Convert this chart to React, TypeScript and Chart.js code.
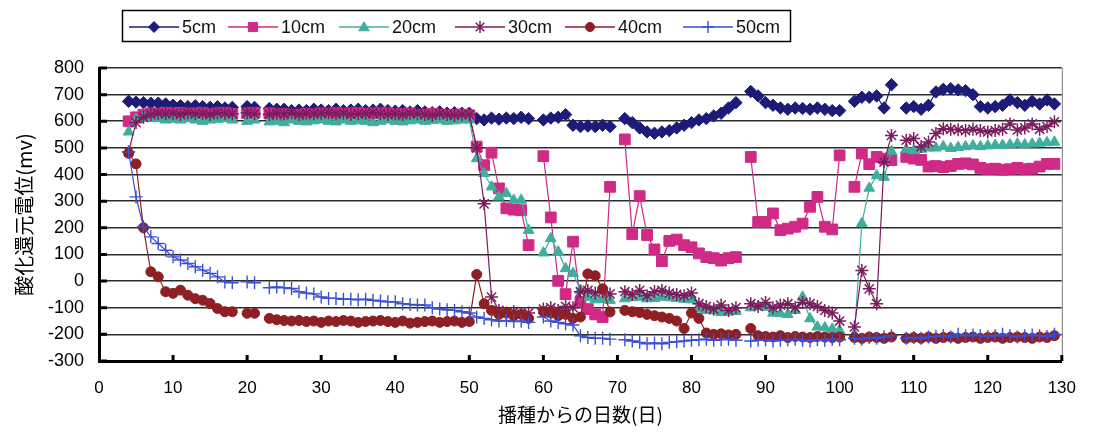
import React, { useEffect, useRef } from 'react';
import { Chart, registerables } from 'chart.js';

Chart.register(...registerables);

// Days after sowing (x categories): 4 .. 129
const days: number[] = Array.from({ length: 126 }, (_, i) => i + 4);

const s5cm: (number | null)[] = [
  675, 672, 670, 668, 668, 665,
  660, 658, 655, 658, 655, 652, 655, 650, 652, null,
  655, 652, null, 648, 645, 645, 640, 642, 640, 645,
  642, 640, 645, 640, 642, 645, 640, 642, 645, 640,
  638, 640, 635, 640, 635, 632, 635, 630, 632, 630,
  630, 610, 605, 612, 608, 612, 610, 615, 610, null,
  605, 612, 615, 625, 585, 580, 582, 580, 585, 580,
  null, 610, 595, 575, 560, 555, 560, 565, 575, 585,
  595, 605, 610, 620, 630, 650, 670, null, 712, 695,
  670, 660, 650, 645, 650, 648, 645, 650, 645, 640,
  640, null, 675, 690, 690, 695, 650, 737, null, 650,
  655, 645, 660, 710, 720, 722, 718, 715, 700, 655,
  650, 655, 660, 680, 670, 660, 675, 665, 680, 665,
];

const s10cm: (number | null)[] = [
  600, 615, 625, 630, 628, 632,
  630, 632, 628, 630, 632, 628, 630, 632, 628, null,
  630, 632, null, 630, 625, 628, 622, 625, 628, 625,
  630, 628, 632, 628, 630, 632, 628, 630, 632, 630,
  625, 628, 630, 622, 625, 628, 625, 622, 625, 625,
  622, 505, 435, 482, 348, 273, 268, 266, 135, null,
  469, 239, 1, -49, 148, -78, -105, -125, -135, 354,
  null, 532, 176, 319, 173, 119, 75, 151, 156, 135,
  127, 104, 90, 86, 77, 86, 90, null, 466, 222,
  222, 254, 191, 197, 204, 216, 279, 316, 204, 194,
  472, null, 354, 479, 439, 466, 460, 454, null, 466,
  460, 455, 430, 432, 428, 432, 440, 442, 438, 425,
  420, 422, 418, 420, 425, 420, 422, 430, 440, 440,
];

const s20cm: (number | null)[] = [
  560, 608, 615, 612, 610, 605,
  608, 605, 610, 605, 600, 605, 608, 610, 605, null,
  600, 605, null, 598, 600, 595, 605, 600, 598, 602,
  605, 600, 598, 605, 600, 602, 600, 595, 600, 605,
  600, 598, 602, 605, 600, 603, 605, 600, 602, 605,
  605, 460, 404, 354, 316, 329, 304, 304, 191, null,
  106, 160, 110, 47, 29, -34, -60, -70, -68, -72,
  null, -66, -62, -60, -66, -65, -60, -62, -65, -68,
  -70, -105, -110, -112, -118, -116, -114, null, -100, -95,
  -98, -120, -122, -125, -110, -60, -141, -172, -175, -180,
  -185, null, -200, 217, 349, 396, 390, 487, null, 495,
  490, 495, 500, 500, 505, 498, 502, 505, 508, 505,
  508, 510, 510, 512, 515, 512, 515, 518, 520, 522,
];

const s30cm: (number | null)[] = [
  485, 595, 615, 625, 630, 628,
  630, 625, 632, 628, 630, 625, 632, 630, 628, null,
  632, 628, null, 625, 630, 628, 632, 625, 630, 628,
  630, 632, 628, 630, 625, 628, 630, 632, 628, 625,
  628, 625, 630, 628, 625, 622, 628, 625, 622, 625,
  625, 500, 290, -60, -110, -120, -115, -125, -120, null,
  -105, -100, -110, -95, -100, -40, -35, -45, -40, -48,
  null, -40, -50, -35, -55, -40, -35, -45, -50, -55,
  -45, -85, -95, -105, -90, -110, -100, null, -85, -95,
  -80, -100, -90, -85, -100, -80, -85, -95, -110, -120,
  -150, null, -172, 40, -29, -85, 447, 547, null, 529,
  535, 505, 522, 554, 572, 570, 568, 565, 570, 565,
  560, 565, 570, 590, 567, 575, 590, 570, 580, 598,
];

const s40cm: (number | null)[] = [
  480, 440, 200, 35, 16, -40,
  -46, -34, -53, -66, -72, -84, -103, -115, -115, null,
  -121, -121, null, -140, -145, -148, -150, -148, -152, -150,
  -155, -150, -152, -148, -150, -155, -152, -150, -148, -152,
  -155, -150, -158, -155, -152, -150, -155, -152, -150, -155,
  -152, 25, -85, -110, -125, -120, -130, -125, -140, null,
  -115, -120, -130, -125, -140, -135, 27, 20, -29, -116,
  null, -110, -115, -118, -125, -130, -135, -140, -150, -178,
  -120, -140, -195, -200, -198, -202, -200, null, -178, -205,
  -208, -210, -205, -212, -208, -210, -212, -208, -210, -212,
  -210, null, -212, -215, -210, -212, -215, -210, null, -215,
  -212, -215, -210, -215, -212, -210, -215, -212, -210, -215,
  -212, -210, -215, -212, -210, -212, -215, -210, -212, -205,
];

const s50cm: (number | null)[] = [
  485, 316, 204, 166, 141, 116,
  91, 79, 66, 54, 41, 29, 16, -3, -6, null,
  -3, -6, null, -25, -22, -25, -28, -40, -45, -48,
  -60, -65, -65, -68, -68, -70, -68, -72, -75, -78,
  -78, -85, -88, -90, -90, -100, -105, -108, -110, -115,
  -120, -135, -140, -145, -150, -148, -152, -150, -155, null,
  -135, -150, -155, -160, -165, -205, -212, -215, -215, -218,
  null, -220, -225, -230, -235, -232, -235, -230, -228, -225,
  -222, -220, -218, -222, -220, -218, -222, null, -225, -222,
  -220, -225, -222, -220, -218, -222, -225, -220, -222, -218,
  -220, null, -215, -218, -212, -215, -210, -205, null, -215,
  -212, -215, -210, -208, -205, -210, -200, -205, -202, -205,
  -208, -205, -200, -205, -210, -205, -202, -205, -208, -200,
];

const seriesLabels = ['5cm', '10cm', '20cm', '30cm', '40cm', '50cm'];
const seriesValues = [s5cm, s10cm, s20cm, s30cm, s40cm, s50cm];

const yTicks = [-300, -200, -100, 0, 100, 200, 300, 400, 500, 600, 700, 800];
const xTicks = [0, 10, 20, 30, 40, 50, 60, 70, 80, 90, 100, 110, 120, 130];

// styles (kept apart from data)
const styles = [
  { color: '#1c1c78', point: 'rectRot', r: 6.2, lr: 5.5, bw: 1 },
  { color: '#cf2a86', point: 'rect', r: 7.6, lr: 6.5, bw: 1 },
  { color: '#3fae9c', point: 'triangle', r: 6.2, lr: 5.5, bw: 1 },
  { color: '#7a1d5e', point: 'star', r: 6.5, lr: 6, bw: 1.5 },
  { color: '#8e1f22', point: 'circle', r: 5, lr: 4.5, bw: 1 },
  { color: '#3a4fd2', point: 'cross', r: 6.5, lr: 6, bw: 1.4 },
];

function drawMarker(ctx: CanvasRenderingContext2D, style: string, x: number, y: number, r: number, color: string, bw: number) {
  ctx.save();
  ctx.fillStyle = color;
  ctx.strokeStyle = color;
  ctx.lineWidth = bw;
  ctx.beginPath();
  if (style === 'rectRot') {
    ctx.moveTo(x - r, y); ctx.lineTo(x, y - r); ctx.lineTo(x + r, y); ctx.lineTo(x, y + r); ctx.closePath();
    ctx.fill(); ctx.stroke();
  } else if (style === 'rect') {
    const s = r * Math.SQRT1_2;
    ctx.rect(x - s, y - s, 2 * s, 2 * s); ctx.fill(); ctx.stroke();
  } else if (style === 'triangle') {
    const h = r * 1.5;
    ctx.moveTo(x - r * 0.95, y + h / 2.2); ctx.lineTo(x, y - h / 1.6); ctx.lineTo(x + r * 0.95, y + h / 2.2); ctx.closePath();
    ctx.fill(); ctx.stroke();
  } else if (style === 'circle') {
    ctx.arc(x, y, r, 0, Math.PI * 2); ctx.fill(); ctx.stroke();
  } else if (style === 'star') {
    const d = r * Math.SQRT1_2;
    ctx.moveTo(x - d, y - d); ctx.lineTo(x + d, y + d);
    ctx.moveTo(x + d, y - d); ctx.lineTo(x - d, y + d);
    ctx.moveTo(x, y - r); ctx.lineTo(x, y + r);
    ctx.stroke();
  } else if (style === 'cross') {
    ctx.moveTo(x, y - r); ctx.lineTo(x, y + r);
    ctx.moveTo(x - r, y); ctx.lineTo(x + r, y);
    ctx.stroke();
  }
  ctx.restore();
}

const framePlugin = {
  id: 'frameAndLegend',
  afterDraw(chart: any) {
    const ctx: CanvasRenderingContext2D = chart.ctx;
    const { left, right, top, bottom } = chart.chartArea;
    const ys = chart.scales.y;
    const xs = chart.scales.x;
    ctx.save();
    // right border
    ctx.strokeStyle = '#777';
    ctx.lineWidth = 1;
    ctx.beginPath();
    ctx.moveTo(right + 0.5, top); ctx.lineTo(right + 0.5, bottom);
    ctx.stroke();
    // inside tick marks
    ctx.strokeStyle = '#000';
    ctx.lineWidth = 3;
    ctx.beginPath();
    yTicks.forEach((v) => {
      const py = ys.getPixelForValue(v);
      ctx.moveTo(left, py); ctx.lineTo(left + 8, py);
    });
    xTicks.forEach((v) => {
      if (v === 0) return;
      const px = xs.getPixelForValue(v);
      ctx.moveTo(px, bottom); ctx.lineTo(px, bottom - 6);
    });
    ctx.stroke();

    // legend box
    ctx.fillStyle = '#fff';
    ctx.fillRect(122, 10, 668, 31);
    ctx.strokeStyle = '#000';
    ctx.lineWidth = 1.5;
    ctx.strokeRect(122.5, 10.5, 668, 31);
    const starts = [129, 228, 339, 455, 565, 683];
    const ly = 27;
    ctx.font = '18px "Liberation Sans", Arial, sans-serif';
    ctx.textBaseline = 'middle';
    ctx.textAlign = 'left';
    seriesLabels.forEach((label, i) => {
      const st = styles[i];
      const x0 = starts[i];
      ctx.strokeStyle = st.color;
      ctx.lineWidth = 1.3;
      ctx.beginPath();
      ctx.moveTo(x0, ly); ctx.lineTo(x0 + 50, ly);
      ctx.stroke();
      drawMarker(ctx, st.point, x0 + 25, ly, st.lr, st.color, st.bw);
      ctx.fillStyle = '#111';
      ctx.fillText(label, x0 + 53, ly + 1);
    });
    ctx.restore();
  },
};

export default function App() {
  const canvasRef = useRef<HTMLCanvasElement | null>(null);

  useEffect(() => {
    if (!canvasRef.current) return;
    const datasets = seriesLabels.map((label, i) => {
      const st = styles[i];
      return {
        label,
        data: days.map((d, j) => ({ x: d, y: seriesValues[i][j] })),
        borderColor: st.color,
        backgroundColor: st.color,
        pointBackgroundColor: st.color,
        pointBorderColor: st.color,
        pointStyle: st.point as any,
        pointRadius: st.r,
        pointBorderWidth: st.bw,
        borderWidth: 1.2,
        tension: 0,
        spanGaps: false,
        order: 6 - i,
      };
    });

    const chart = new Chart(canvasRef.current, {
      type: 'line',
      data: { datasets: datasets as any },
      plugins: [framePlugin],
      options: {
        animation: false,
        responsive: false,
        devicePixelRatio: 1,
        layout: { padding: { top: 68, right: 23, left: 0, bottom: 0 } },
        plugins: {
          legend: { display: false },
          tooltip: { enabled: false },
        },
        scales: {
          x: {
            type: 'linear',
            min: 0,
            max: 130,
            ticks: {
              stepSize: 10,
              color: '#000',
              font: { size: 17, family: '"Liberation Sans", Arial, sans-serif' },
              padding: 17,
              maxRotation: 0,
              autoSkip: false,
            },
            grid: { display: false, drawTicks: false },
            border: { display: true, color: '#000', width: 3 },
            title: {
              display: true,
              text: '播種からの日数(日)',
              color: '#000',
              font: { size: 19, family: '"Noto Sans CJK JP", sans-serif' },
              padding: { top: 0, bottom: 8 },
            },
            afterFit: (s: any) => { s.height = 73; },
          },
          y: {
            min: -300,
            max: 800,
            ticks: {
              stepSize: 100,
              color: '#000',
              font: { size: 18, family: '"Liberation Sans", Arial, sans-serif' },
              padding: 15,
            },
            grid: { color: '#2b2b2b', lineWidth: 1.6, drawTicks: false },
            border: { display: true, color: '#000', width: 3 },
            title: {
              display: true,
              text: '酸化還元電位(mv)',
              color: '#000',
              font: { size: 20, family: '"Noto Sans CJK JP", sans-serif' },
              padding: { top: 12, bottom: 0 },
            },
            afterFit: (s: any) => { s.width = 99; },
          },
        },
      } as any,
    });
    return () => chart.destroy();
  }, []);

  return (
    <div style={{ position: 'absolute', left: 0, top: 0, width: 1093, height: 434, background: '#fff' }}>
      <canvas ref={canvasRef} width={1093} height={434} style={{ display: 'block' }} />
    </div>
  );
}
